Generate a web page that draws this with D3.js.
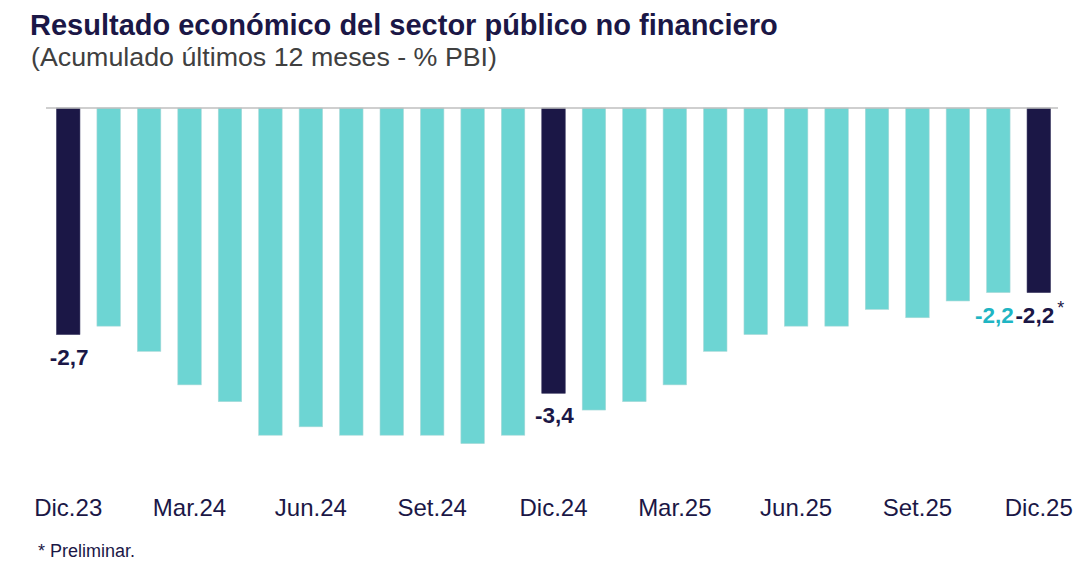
<!DOCTYPE html>
<html>
<head>
<meta charset="utf-8">
<script src="https://cdn.jsdelivr.net/npm/d3@7"></script>
<style>
	body { margin: 0; background: #fff; }
	text { font-family: "Liberation Sans", Arial, sans-serif; }
</style>
</head>
<body>
<div id="chart"></div>
<script>
// meses (acumulado 12 meses)
const months = ["Dic.23","Ene.24","Feb.24","Mar.24","Abr.24","May.24","Jun.24","Jul.24","Ago.24","Set.24","Oct.24","Nov.24",
	"Dic.24","Ene.25","Feb.25","Mar.25","Abr.25","May.25","Jun.25","Jul.25","Ago.25","Set.25","Oct.25","Nov.25","Dic.25"];
// resultado % PBI
const values = [-2.7,-2.6,-2.9,-3.3,-3.5,-3.9,-3.8,-3.9,-3.9,-3.9,-4.0,-3.9,
	-3.4,-3.6,-3.5,-3.3,-2.9,-2.7,-2.6,-2.6,-2.4,-2.5,-2.3,-2.2,-2.2];
const tickLabels = ["Dic.23","Mar.24","Jun.24","Set.24","Dic.24","Mar.25","Jun.25","Set.25","Dic.25"];
const highlighted = ["Dic.23","Dic.24","Dic.25"];
const labelled = ["Dic.23","Dic.24","Nov.25","Dic.25"];

const width = 1088, height = 570;
const navy = "#1b1746", teal = "#6dd5d3", tealText = "#1fb5c3";

var x = d3.scaleBand()
	.domain(months)
	.range([48, 1059])
	.paddingInner(0.42)
	.paddingOuter(0.21);

var y = d3.scaleLinear()
	.domain([-4, 0])
	.range([443.6, 108]);

var fmt = v => d3.format(".1f")(v).replace(".", ",").replace("−", "-");

var svg = d3.select("#chart").append("svg")
	.attr("width", width)
	.attr("height", height);

svg.append("text")
	.attr("x", 30).attr("y", 35)
	.attr("font-size", 29).attr("font-weight", "bold")
	.attr("fill", navy)
	.text("Resultado económico del sector público no financiero");

svg.append("text")
	.attr("x", 31).attr("y", 66)
	.attr("font-size", 25)
	.attr("textLength", 466)
	.attr("lengthAdjust", "spacingAndGlyphs")
	.attr("fill", "#404040")
	.text("(Acumulado últimos 12 meses - % PBI)");

svg.append("g")
	.selectAll("rect")
	.data(months)
	.join("rect")
		.attr("x", d => x(d))
		.attr("y", y(0))
		.attr("width", x.bandwidth())
		.attr("height", (d, i) => y(values[i]) - y(0))
		.attr("fill", d => highlighted.includes(d) ? navy : teal)
		.attr("stroke", d => highlighted.includes(d) ? "#3a3860" : "#a9d9d8")
		.attr("stroke-width", 0.6);

// eje en cero
svg.append("line")
	.attr("x1", 46).attr("x2", 1058)
	.attr("y1", y(0)).attr("y2", y(0))
	.attr("stroke", "#bfbfbf")
	.attr("stroke-width", 1.5);

var lbl = svg.append("g")
	.attr("font-size", 22.5)
	.attr("font-weight", "bold")
	.attr("text-anchor", "middle")
	.selectAll("text")
	.data(labelled)
	.join("text")
		.attr("x", d => x(d) + x.bandwidth() / 2)
		.attr("dx", d => highlighted.includes(d) ? 1 : -4)
		.attr("y", d => y(values[months.indexOf(d)]) + 30)
		.attr("fill", d => highlighted.includes(d) ? navy : tealText)
		.text(d => fmt(values[months.indexOf(d)]));

lbl.filter(d => d === "Dic.25")
	.append("tspan")
		.attr("font-size", 18)
		.attr("font-weight", "normal")
		.attr("dx", 3)
		.attr("dy", -9)
		.text("*");

svg.append("g")
	.attr("font-size", 24)
	.attr("text-anchor", "middle")
	.attr("fill", navy)
	.selectAll("text")
	.data(tickLabels)
	.join("text")
		.attr("x", d => x(d) + x.bandwidth() / 2)
		.attr("y", 516)
		.text(d => d);

svg.append("text")
	.attr("x", 38).attr("y", 557)
	.attr("font-size", 18)
	.attr("fill", navy)
	.text("* Preliminar.");
</script>
</body>
</html>
